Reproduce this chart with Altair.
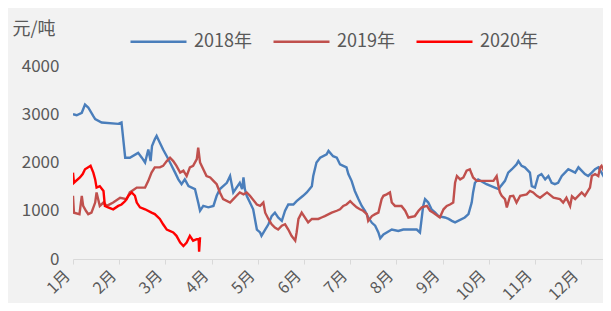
import altair as alt
import pandas as pd

MONTH_LABELS = ["1月", "2月", "3月", "4月", "5月", "6月", "7月", "8月", "9月", "10月", "11月", "12月"]
SERIES = ["2018年", "2019年", "2020年"]
COLORS = ["#4a7ebb", "#c0504d", "#ff0000"]

# x positions in months from 1月 (0 = start of January), y values in 元/吨
m_2018 = [0.00, 0.08, 0.19, 0.26, 0.33, 0.44, 0.48, 0.62, 0.98, 1.05, 1.13, 1.23, 1.41, 1.49, 1.56, 1.63, 1.68,
          1.71, 1.77, 1.81, 1.88, 1.95, 2.03, 2.10, 2.21, 2.28, 2.35, 2.42, 2.50, 2.64, 2.71, 2.75, 2.82, 2.93,
          3.04, 3.11, 3.18, 3.33, 3.40, 3.47, 3.61, 3.66, 3.69, 3.72, 3.76, 3.83, 3.90, 3.98, 4.05, 4.08, 4.16,
          4.23, 4.30, 4.37, 4.44, 4.52, 4.59, 4.66, 4.77, 4.84, 4.98, 5.06, 5.17, 5.20, 5.27, 5.35, 5.49, 5.53,
          5.63, 5.71, 5.78, 5.85, 5.92, 5.96, 6.03, 6.10, 6.18, 6.25, 6.32, 6.39, 6.47, 6.54, 6.61, 6.65, 6.72,
          6.90, 7.04, 7.15, 7.33, 7.44, 7.51, 7.58, 7.62, 7.69, 7.76, 7.84, 7.91, 8.05, 8.13, 8.20, 8.27, 8.48,
          8.56, 8.63, 8.66, 8.70, 8.77, 8.95, 9.13, 9.21, 9.35, 9.42, 9.50, 9.60, 9.64, 9.71, 9.78, 9.89, 9.93,
          10.00, 10.07, 10.14, 10.22, 10.29, 10.36, 10.43, 10.50, 10.58, 10.65, 10.72, 10.87, 10.94, 11.08,
          11.15, 11.23, 11.30, 11.37, 11.44, 11.52, 11.59, 11.62]
v_2018 = [3000, 2980, 3030, 3200, 3140, 2960, 2900, 2830, 2800, 2830, 2100, 2100, 2200, 2100, 2000, 2270, 2030,
          2340, 2480, 2550, 2410, 2270, 2130, 2000, 1790, 1650, 1550, 1650, 1510, 1450, 1170, 1000, 1100, 1070,
          1100, 1310, 1450, 1580, 1720, 1380, 1580, 1450, 1690, 1450, 1310, 1170, 1030, 610, 550, 480, 610,
          720, 890, 960, 860, 790, 1000, 1130, 1130, 1200, 1310, 1380, 1510, 1720, 2000, 2100, 2170, 2240,
          2130, 2100, 1960, 1930, 1900, 1760, 1620, 1410, 1240, 1100, 1000, 860, 750, 690, 550, 430, 510,
          610, 580, 610, 610, 610, 550, 1100, 1240, 1170, 1030, 960, 890, 860, 830, 790, 760, 860,
          930, 1170, 1380, 1580, 1650, 1550, 1480, 1450, 1620, 1790, 1860, 1960, 2030, 1930, 1900, 1790, 1510,
          1480, 1720, 1760, 1650, 1720, 1580, 1550, 1580, 1720, 1790, 1860, 1790, 1900, 1760,
          1720, 1790, 1860, 1900, 1790, 1650, 1550, 1450]

m_2019 = [0.00, 0.02, 0.14, 0.19, 0.22, 0.28, 0.33, 0.40, 0.48, 0.51, 0.58, 0.66, 0.73, 0.87, 1.02, 1.16, 1.23,
          1.38, 1.56, 1.63, 1.70, 1.77, 1.88, 1.95, 2.03, 2.10, 2.17, 2.24, 2.32, 2.39, 2.46, 2.53, 2.60, 2.68,
          2.71, 2.75, 2.82, 2.89, 2.97, 3.04, 3.11, 3.18, 3.25, 3.40, 3.47, 3.54, 3.61, 3.69, 3.76, 3.83, 3.98,
          4.05, 4.12, 4.16, 4.23, 4.30, 4.37, 4.44, 4.52, 4.59, 4.66, 4.73, 4.81, 4.84, 4.88, 4.95, 5.09, 5.17,
          5.31, 5.38, 5.45, 5.60, 5.71, 5.78, 5.85, 5.92, 6.00, 6.07, 6.14, 6.21, 6.28, 6.36, 6.39, 6.47, 6.54,
          6.61, 6.68, 6.72, 6.79, 6.86, 6.90, 6.97, 7.11, 7.19, 7.26, 7.40, 7.48, 7.55, 7.66, 7.73, 7.80, 7.94,
          8.02, 8.09, 8.16, 8.23, 8.27, 8.31, 8.38, 8.45, 8.52, 8.59, 8.63, 8.66, 8.74, 9.10, 9.17, 9.21, 9.24,
          9.28, 9.35, 9.39, 9.46, 9.53, 9.60, 9.68, 9.82, 9.89, 9.96, 10.04, 10.11, 10.26, 10.40, 10.54, 10.61,
          10.68, 10.76, 10.80, 10.87, 11.01, 11.08, 11.19, 11.23, 11.30, 11.37, 11.41, 11.44, 11.52, 11.59, 11.62]
v_2019 = [1310, 960, 930, 1310, 1100, 1000, 930, 960, 1170, 1380, 1100, 1170, 1100, 1170, 1270, 1240, 1380,
          1480, 1480, 1620, 1790, 1900, 1900, 1930, 2030, 2100, 2030, 1930, 1790, 1830, 1720, 1900, 1930, 2070,
          2310, 2000, 1860, 1720, 1690, 1620, 1550, 1380, 1240, 1170, 1240, 1310, 1380, 1340, 1380, 1310, 1130,
          1100, 1170, 960, 830, 720, 650, 610, 690, 720, 610, 480, 380, 550, 830, 960, 760, 830,
          830, 860, 890, 960, 1000, 1030, 1100, 1130, 1200, 1130, 1070, 1030, 1000, 930, 790, 890, 930,
          960, 1240, 1310, 1340, 1380, 1170, 1100, 1100, 1000, 860, 890, 1000, 1070, 1100, 1000, 960, 860,
          1030, 1100, 1130, 1170, 1580, 1720, 1650, 1690, 1830, 1860, 1760, 1690, 1620, 1620, 1720, 1510, 1380,
          1310, 1240, 1070, 1300, 1310, 1170, 1310, 1340, 1410, 1380, 1310, 1270, 1380, 1270, 1240, 1170,
          1270, 1100, 1300, 1240, 1380, 1310, 1480, 1720, 1760, 1720, 1900, 1930, 1760, 1720, 1690]

m_2020 = [0.00, 0.02, 0.15, 0.21, 0.26, 0.33, 0.38, 0.44, 0.48, 0.51, 0.58, 0.66, 0.69, 0.76, 0.87, 0.98, 1.05,
          1.13, 1.20, 1.27, 1.34, 1.38, 1.45, 1.56, 1.70, 1.77, 1.88, 1.95, 2.03, 2.17, 2.24, 2.32, 2.39, 2.46,
          2.53, 2.60, 2.68, 2.72, 2.73, 2.75]
v_2020 = [1790, 1580, 1690, 1760, 1860, 1900, 1930, 1790, 1650, 1480, 1510, 1410, 1100, 1070, 1030, 1100, 1130,
          1200, 1310, 1380, 1310, 1170, 1070, 1030, 960, 930, 830, 720, 610, 550, 480, 340, 270, 340,
          480, 380, 410, 410, 150, 450]

rows = []
for name, ms, vs in zip(SERIES, [m_2018, m_2019, m_2020], [v_2018, v_2019, v_2020]):
    for i, (m, v) in enumerate(zip(ms, vs)):
        rows.append({"m": m, "price": v, "series": name, "order": i})
df = pd.DataFrame(rows)

FONT = "Noto Sans CJK SC"
GRAY = "#595959"
label_expr = "[" + ",".join("'%s'" % s for s in MONTH_LABELS) + "][datum.value]"

chart = alt.Chart(df).mark_line(strokeWidth=2.4, clip=True).encode(
    x=alt.X("m:Q",
            scale=alt.Scale(domain=[0, 530 / 46.2], nice=False, zero=False),
            axis=alt.Axis(values=list(range(len(MONTH_LABELS))), labelExpr=label_expr, title=None,
                          grid=False, domainColor="#d9d9d9", tickColor="#d9d9d9", tickSize=5,
                          labelAngle=-45, labelAlign="right", labelBaseline="middle",
                          labelPadding=9, labelOffset=-6, labelFont=FONT, labelFontSize=16,
                          labelColor=GRAY, labelOverlap=False, labelBound=False, labelFlush=False)),
    y=alt.Y("price:Q",
            scale=alt.Scale(domain=[0, 4000], nice=False),
            axis=alt.Axis(values=[0, 1000, 2000, 3000, 4000], format="d", title="元/吨", titleAngle=0,
                          titleAlign="left", titleBaseline="middle", titleX=-61, titleY=-37,
                          titleFont=FONT, titleFontSize=18, titleFontWeight="normal", titleColor=GRAY,
                          grid=False, domain=False, ticks=False, labelPadding=14,
                          labelFont=FONT, labelFontSize=17, labelColor=GRAY)),
    color=alt.Color("series:N",
                    scale=alt.Scale(domain=SERIES, range=COLORS),
                    legend=alt.Legend(title=None, orient="none", direction="horizontal",
                                      legendX=56, legendY=-54, symbolType="stroke", symbolSize=3136,
                                      symbolStrokeWidth=2.5, labelOffset=6, columnPadding=16,
                                      labelFont=FONT, labelFontSize=18, labelColor=GRAY)),
    order="order:Q",
).properties(
    width=530, height=193,
    autosize=alt.AutoSizeParams(type="none"),
    padding={"left": 65, "top": 58, "right": 0, "bottom": 44},
).configure(background="#f2f2f2").configure_view(stroke=None)

chart.save("out.html", embed_options={"renderer": "svg", "actions": False})
